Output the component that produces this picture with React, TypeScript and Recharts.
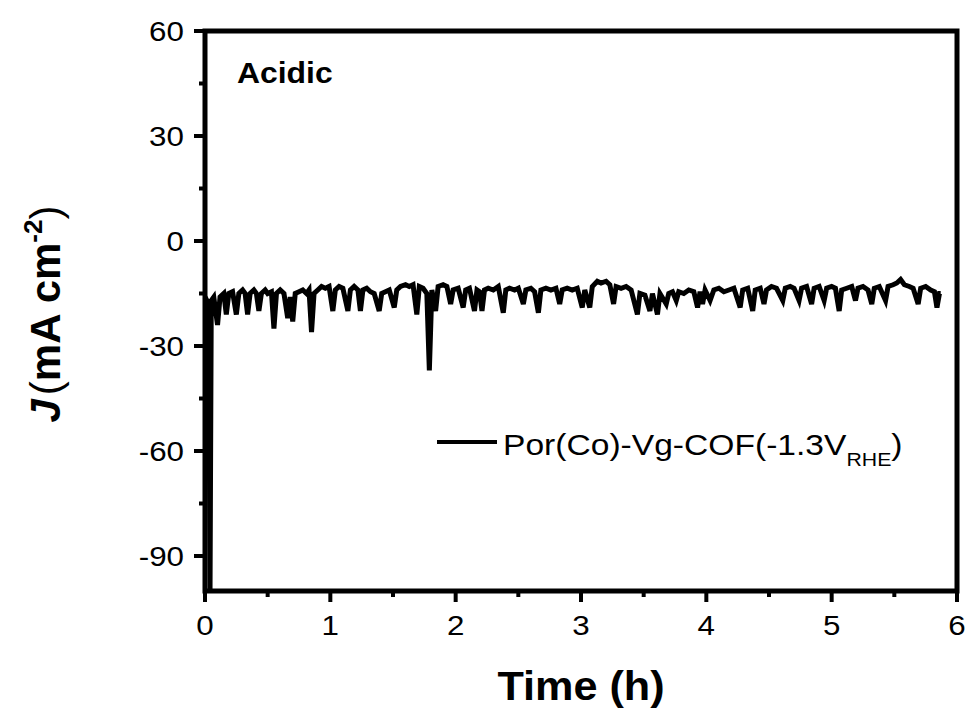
import React from 'react';
import { LineChart, Line, XAxis, YAxis } from 'recharts';

// time (h) and current density (mA cm-2)
const TIME = [
  0, 0.015, 0.03, 0.04, 0.05, 0.07, 0.1, 0.12, 0.15, 0.17, 0.19, 0.22, 0.25, 0.27, 0.3, 0.32, 0.34, 0.36, 0.39, 0.41, 0.43, 0.45, 0.48,
  0.5, 0.53, 0.55, 0.57, 0.6, 0.63, 0.66, 0.68, 0.7, 0.72, 0.75, 0.78, 0.81, 0.83, 0.85, 0.87, 0.9, 0.93, 0.96, 0.99,
  1.02, 1.04, 1.07, 1.1, 1.14, 1.16, 1.19, 1.22, 1.24, 1.26, 1.29, 1.32, 1.35, 1.39, 1.41, 1.44, 1.47, 1.51, 1.53, 1.56, 1.6, 1.63, 1.66, 1.69, 1.71, 1.74, 1.77, 1.79, 1.81, 1.84, 1.86, 1.9, 1.93, 1.96, 1.98,
  2.02, 2.06, 2.08, 2.11, 2.15, 2.17, 2.19, 2.21, 2.23, 2.26, 2.3, 2.34, 2.38, 2.4, 2.43, 2.47, 2.5, 2.54, 2.56, 2.6, 2.63, 2.66, 2.68, 2.72, 2.76, 2.8, 2.83, 2.85, 2.89, 2.93, 2.97, 3.01,
  3.03, 3.07, 3.09, 3.13, 3.16, 3.2, 3.23, 3.26, 3.28, 3.32, 3.36, 3.4, 3.45, 3.47, 3.51, 3.55, 3.57, 3.61, 3.63, 3.68, 3.7, 3.73, 3.76, 3.78, 3.82, 3.86, 3.9, 3.93, 3.95, 3.97, 3.99,
  4.03, 4.06, 4.1, 4.14, 4.18, 4.22, 4.27, 4.29, 4.33, 4.37, 4.39, 4.43, 4.46, 4.48, 4.52, 4.56, 4.61, 4.63, 4.67, 4.7, 4.74, 4.76, 4.8, 4.84, 4.86, 4.9, 4.94, 4.96, 5.0,
  5.03, 5.06, 5.08, 5.12, 5.16, 5.19, 5.21, 5.25, 5.29, 5.32, 5.34, 5.38, 5.43, 5.45, 5.49, 5.52, 5.55, 5.58, 5.62, 5.65, 5.69, 5.71, 5.75, 5.79, 5.82, 5.84, 5.86, 5.87,
];

const CURRENT = [
  -16, -17, -18, -101, -17, -16, -24, -16, -15, -21, -15, -14.5, -21, -15, -14, -15, -21, -15, -14, -15, -20, -15, -14,
  -15, -14.5, -25, -15, -14, -15, -22, -16, -23, -15, -14.5, -14, -15, -14, -26, -15, -14, -13, -13.5, -13,
  -20, -14, -13, -13.5, -20, -14, -13, -14, -20, -14, -13.5, -14.5, -15, -20, -15, -14.5, -14, -19, -14, -13, -12.5, -13, -12.5, -21, -13, -13.5, -15, -37, -14, -20, -13, -12.5, -13, -18, -14,
  -13.5, -19, -14, -13.5, -20, -14, -14.5, -20, -14, -13.5, -14, -13, -20.5, -14, -13.5, -14, -13.5, -18, -14, -13.5, -14.5, -20.5, -14, -13.5, -14, -13.5, -18, -14, -13.5, -14, -13.5, -19,
  -14, -19, -13, -11.5, -12, -11.5, -12.5, -18, -13, -13.5, -13, -14, -21, -15, -15.5, -20, -15, -21, -15, -18, -15, -14.5, -17, -14.5, -15, -14, -14.5, -19, -14.5, -18, -14,
  -17, -14, -13.5, -14.5, -14, -13.5, -19, -14, -13.5, -20, -14, -13.5, -18, -14, -13, -13.5, -17, -13.5, -13, -13.5, -17, -13.5, -13, -18, -13.5, -13, -17, -13.5, -13,
  -13.5, -20, -14, -13.5, -13, -17, -13.5, -13, -14, -18, -13.5, -13, -17, -13, -12.5, -12, -11, -12.5, -13, -13.5, -18, -13.5, -13, -14, -14.5, -19, -15, -15,
];

const X_TICKS = [0, 0.5, 1, 1.5, 2, 2.5, 3, 3.5, 4, 4.5, 5, 5.5, 6];
const Y_TICKS = [-90, -75, -60, -45, -30, -15, 0, 15, 30, 45, 60];
const SERIES_NAME = 'Por(Co)-Vg-COF(-1.3V';

const data = TIME.map((t, i) => ({ t, j: CURRENT[i] }));

const FONT = '"Liberation Sans", Arial, sans-serif';
const W = 969;
const H = 711;
const PLOT = { left: 205, top: 31, right: 12, width: 752, height: 560 };

const YTick = (props: any) => {
  const { x, y, payload } = props;
  const major = payload.value % 30 === 0;
  return (
    <g>
      <line x1={x - (major ? 11 : 6)} x2={x} y1={y} y2={y} style={{ stroke: '#000', strokeWidth: 4 }} />
      {major && (
        <text transform={`translate(${x - 21},${y + 10}) scale(1.12,1)`} textAnchor="end" fontSize={28} fontFamily={FONT} fill="#000">
          {payload.value}
        </text>
      )}
    </g>
  );
};

const XTick = (props: any) => {
  const { x, y, payload } = props;
  const major = Number.isInteger(payload.value);
  return (
    <g>
      <line x1={x} x2={x} y1={y} y2={y + (major ? 11 : 6)} style={{ stroke: '#000', strokeWidth: 4 }} />
      {major && (
        <text transform={`translate(${x},${y + 44}) scale(1.12,1)`} textAnchor="middle" fontSize={28} fontFamily={FONT} fill="#000">
          {payload.value}
        </text>
      )}
    </g>
  );
};

export default function App() {
  return (
    <div style={{ position: 'absolute', left: 0, top: 0, width: W, height: H, background: '#fff' }}>
      <LineChart width={W} height={H} data={data} margin={{ top: PLOT.top, right: PLOT.right, bottom: 0, left: 0 }}>
        <XAxis
          dataKey="t"
          type="number"
          domain={[0, 6]}
          ticks={X_TICKS}
          interval={0}
          height={H - PLOT.top - PLOT.height}
          tickSize={0}
          tickMargin={0}
          tick={<XTick />}
          axisLine={false}
          tickLine={false}
        />
        <YAxis
          type="number"
          domain={[-100, 60]}
          allowDataOverflow
          ticks={Y_TICKS}
          interval={0}
          width={PLOT.left}
          tickSize={0}
          tickMargin={0}
          tick={<YTick />}
          axisLine={false}
          tickLine={false}
        />
        <Line
          type="linear"
          dataKey="j"
          stroke="#000"
          strokeWidth={5}
          dot={false}
          activeDot={false}
          isAnimationActive={false}
        />
      </LineChart>
      <svg width={W} height={H} style={{ position: 'absolute', left: 0, top: 0, pointerEvents: 'none' }}>
        {/* plot frame */}
        <rect x={PLOT.left} y={PLOT.top} width={PLOT.width} height={PLOT.height} style={{ fill: 'none', stroke: '#000', strokeWidth: 5 }} />
        <text transform="translate(237,83) scale(1.1,1)" fontSize={29} fontWeight="bold" fontFamily={FONT} fill="#000">
          Acidic
        </text>
        <line x1={437} x2={497} y1={442} y2={442} style={{ stroke: '#000', strokeWidth: 4 }} />
        <text transform="translate(503,455) scale(1.12,1)" fontSize={30} fontFamily={FONT} fill="#000">
          {SERIES_NAME}
          <tspan fontSize={19} dy={11}>RHE</tspan>
          <tspan fontSize={30} dy={-11}>)</tspan>
        </text>
        <text transform="translate(581,700) scale(1.08,1)" textAnchor="middle" fontSize={40} fontWeight="bold" fontFamily={FONT} fill="#000">
          Time (h)
        </text>
        <text transform="translate(60,314) rotate(-90)" textAnchor="middle" fontSize={42} fontWeight="bold" fontFamily={FONT} fill="#000">
          <tspan fontStyle="italic">J</tspan>
          <tspan fontWeight="normal" dx={4}>(</tspan>
          <tspan>mA cm</tspan>
          <tspan fontSize={26} dy={-18}>-2</tspan>
          <tspan fontWeight="normal" dy={18}>)</tspan>
        </text>
      </svg>
    </div>
  );
}
